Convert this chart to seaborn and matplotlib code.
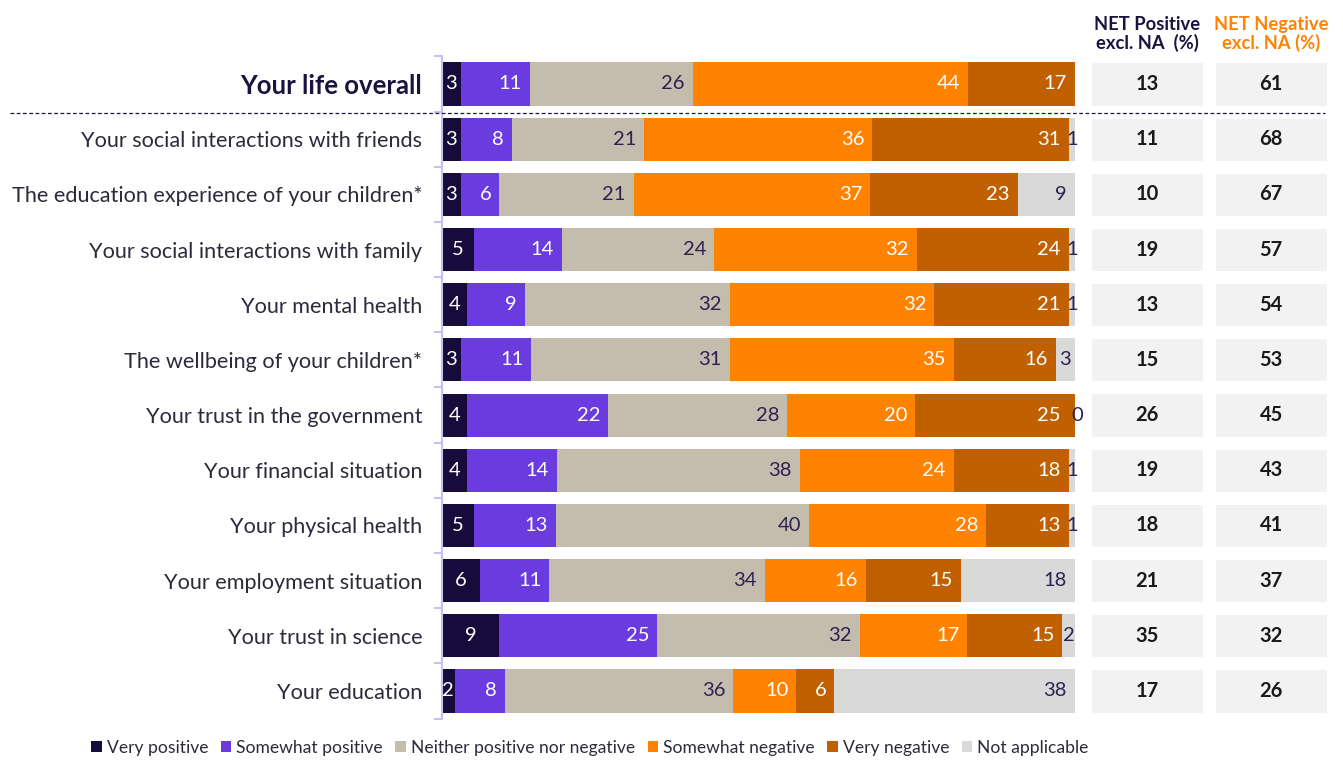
import numpy as np
import pandas as pd
import matplotlib.pyplot as plt
import seaborn as sns
from matplotlib.colors import ListedColormap
from matplotlib.patches import Patch
from matplotlib.lines import Line2D

# data
categories = [
    "Your life overall",
    "Your social interactions with friends",
    "The education experience of your children*",
    "Your social interactions with family",
    "Your mental health",
    "The wellbeing of your children*",
    "Your trust in the government",
    "Your financial situation",
    "Your physical health",
    "Your employment situation",
    "Your trust in science",
    "Your education",
]
very_pos = [3, 3, 3, 5, 4, 3, 4, 4, 5, 6, 9, 2]
some_pos = [11, 8, 6, 14, 9, 11, 22, 14, 13, 11, 25, 8]
neither = [26, 21, 21, 24, 32, 31, 28, 38, 40, 34, 32, 36]
some_neg = [44, 36, 37, 32, 32, 35, 20, 24, 28, 16, 17, 10]
very_neg = [17, 31, 23, 24, 21, 16, 25, 18, 13, 15, 15, 6]
not_app = [np.nan, 1, 9, 1, 1, 3, 0, 1, 1, 18, 2, 38]
net_pos = [13, 11, 10, 19, 13, 15, 26, 19, 18, 21, 35, 17]
net_neg = [61, 68, 67, 57, 54, 53, 45, 43, 41, 37, 32, 26]

seg_names = ["Very positive", "Somewhat positive", "Neither positive nor negative",
             "Somewhat negative", "Very negative", "Not applicable"]
seg_colors = ["#170B3B", "#6A3CE0", "#C4BDAE", "#FF8200", "#C06000", "#D9D9D9"]
seg_text = ["white", "white", "#2B2250", "white", "white", "#2B2250"]

navy = "#1B1240"
sns.set_theme(style="white")
plt.rcParams["font.family"] = ["Lato", "DejaVu Sans"]

df = pd.DataFrame(dict(zip(seg_names, [very_pos, some_pos, neither, some_neg, very_neg, not_app])),
                  index=categories)
vals = df.fillna(0)
# values are rounded; scale each row so the bars end together like the original
shares = vals.div(vals.sum(axis=1), axis=0) * 100
cum = shares.cumsum(axis=1)

fig = plt.figure(figsize=(13.43, 7.6), dpi=100)
ax = fig.add_axes([0.329, 0.0545, 0.4715, 0.8713])

# stacked bars: draw cumulative totals from the widest down
for name, col in reversed(list(zip(seg_names, seg_colors))):
    d = pd.DataFrame({"cat": categories, "x": cum[name].values})
    sns.barplot(data=d, x="x", y="cat", color=col, orient="h", width=0.78,
                saturation=1, linewidth=0, ax=ax)

unit = 100 / 633  # data units per pixel
for i, cat in enumerate(categories):
    for j, name in enumerate(seg_names):
        v = df.loc[cat, name]
        if pd.isna(v):
            continue
        right = cum.loc[cat, name]
        w = shares.loc[cat, name]
        if w < 0.5:
            xx, ha = right + 2 * unit, "center"
        elif j == 0 or v <= 3:
            xx, ha = right - w / 2, "center"
        else:
            pad = 8
            if j + 1 < len(seg_names) and df.loc[cat, seg_names[j + 1]] == 0:
                pad = 15
            xx, ha = right - pad * unit, "right"
        ax.text(xx, i, str(int(v)), ha=ha, va="center", fontsize=14.5,
                color=seg_text[j])

ax.set_xlim(0, 100)
ax.set_ylim(len(categories) - 0.5, -0.5)
ax.set_xlabel("")
ax.set_ylabel("")
ax.set_xticks([])
sns.despine(ax=ax, top=True, right=True, bottom=True)
ax.spines["left"].set_color("#C9BFF2")
ax.spines["left"].set_linewidth(1.5)
ax.set_yticks(np.arange(len(categories)))
ax.set_yticks(np.arange(-0.5, len(categories)), minor=True)
ax.tick_params(axis="y", which="major", length=0, pad=14, labelsize=15.6, labelcolor="#2E2A3A")
ax.tick_params(axis="y", which="minor", length=6, width=1.5, color="#C9BFF2", left=True)
lab0 = ax.get_yticklabels()[0]
lab0.set_fontweight("bold")
lab0.set_fontsize(18.5)
lab0.set_color(navy)

# NET boxes
ax2 = fig.add_axes([0.8079, 0.0545, 0.1848, 0.8713])
net = pd.DataFrame({"NET Positive\nexcl. NA  (%)": net_pos,
                    "NET Negative\nexcl. NA (%)": net_neg}, index=categories)
sns.heatmap(net, ax=ax2, cmap=ListedColormap(["#F2F2F2"]), cbar=False, annot=True,
            fmt="d", linewidths=9, linecolor="white",
            annot_kws={"fontsize": 14.5, "fontweight": "bold", "color": "#1A1A1A"})
ax2.set_yticks([])
ax2.set_ylabel("")
ax2.xaxis.tick_top()
ax2.tick_params(axis="x", length=0, pad=3)
for t, c in zip(ax2.get_xticklabels(), [navy, "#FF8200"]):
    t.set_color(c)
    t.set_fontweight("bold")
    t.set_fontsize(13.2)
    t.set_linespacing(1.05)

# dashed divider under the headline row
fig.add_artist(Line2D([10 / 1343, 1325 / 1343], [1 - 113 / 760] * 2, color=navy,
                      linestyle=(0, (3, 2)), linewidth=0.9))

handles = [Patch(facecolor=c, edgecolor="none") for c in seg_colors]
fig.legend(handles, seg_names, loc="center", bbox_to_anchor=(590 / 1343, 1 - 748 / 760),
           ncol=6, frameon=False, fontsize=12.6, handlelength=0.6, handleheight=0.6,
           handletextpad=0.3, columnspacing=0.7, labelcolor="#2E2A3A")

fig.savefig("out.png", dpi=100)
